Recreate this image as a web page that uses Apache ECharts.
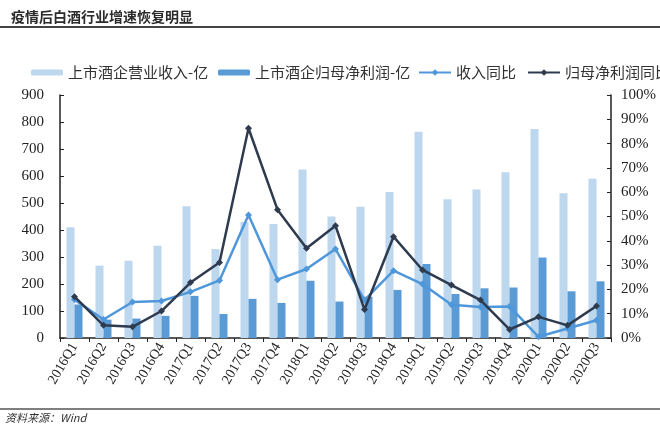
<!DOCTYPE html>
<html>
<head>
<meta charset="utf-8">
<script src="https://cdn.jsdelivr.net/npm/echarts@6/dist/echarts.min.js"></script>
<style>html,body{margin:0;padding:0;background:#fff;}#c{width:660px;height:426px;}</style>
</head>
<body>
<div id="c"></div>
<script>
var categories = ['2016Q1','2016Q2','2016Q3','2016Q4','2017Q1','2017Q2','2017Q3','2017Q4','2018Q1','2018Q2','2018Q3','2018Q4','2019Q1','2019Q2','2019Q3','2019Q4','2020Q1','2020Q2','2020Q3'];
var revenue = [410, 268, 286, 342, 488, 330, 430, 422, 624, 450, 486, 541, 764, 514, 550, 614, 774, 536, 590];
var profit = [124, 68, 72, 82, 156, 89, 145, 130, 212, 135, 153, 178, 274, 163, 184, 187, 298, 173, 210];
var revenueYoY = [15.8, 7.6, 14.8, 15.2, 19.0, 23.7, 50.6, 24.0, 28.4, 36.6, 15.6, 27.7, 22.2, 13.7, 12.8, 13.0, 0.5, 3.9, 7.3];
var profitYoY = [17.0, 5.2, 4.6, 11.1, 22.8, 31.1, 86.3, 52.8, 36.9, 46.2, 11.7, 41.7, 28.0, 21.8, 15.6, 3.5, 8.7, 5.2, 13.2];
var leftTicks = [0, 900, 100];
var rightTicks = [0, 100, 10];

var serif = 'Liberation Serif';
var cjk = 'Noto Sans CJK SC';
var chart = echarts.init(document.getElementById('c'));
var legendText = {fontFamily: cjk, fontSize: 15, color: '#333'};
chart.setOption({
  animation: false,
  title: {text: '疫情后白酒行业增速恢复明显', left: 6, top: 5,
    textStyle: {fontFamily: cjk, fontSize: 14, fontWeight: 'bold', color: '#2b2b2b'}},
  graphic: [
    {type: 'line', shape: {x1: 0, y1: 27, x2: 660, y2: 27}, style: {stroke: '#444', lineWidth: 2}},
    {type: 'line', shape: {x1: 0, y1: 409, x2: 660, y2: 409}, style: {stroke: '#555', lineWidth: 1.5}},
    {type: 'text', left: 5, top: 412, style: {text: '资料来源：Wind', fontFamily: cjk, fontSize: 11, fontStyle: 'italic', fill: '#333'}}
  ],
  legend: [
    {data: ['上市酒企营业收入-亿'], left: 26, top: 60, itemWidth: 32, itemHeight: 6, textStyle: legendText},
    {data: ['上市酒企归母净利润-亿'], left: 213, top: 60, itemWidth: 32, itemHeight: 6, textStyle: legendText},
    {data: ['收入同比'], left: 413, top: 60, itemWidth: 32, itemHeight: 8, textStyle: legendText},
    {data: ['归母净利润同比'], left: 522, top: 60, itemWidth: 32, itemHeight: 8, textStyle: legendText}
  ],
  grid: {left: 60, right: 49, top: 95, bottom: 88},
  xAxis: {
    type: 'category', data: categories, boundaryGap: true,
    axisLine: {lineStyle: {color: '#222', width: 1.5}},
    axisTick: {show: true, inside: false, length: 4, lineStyle: {color: '#222'}},
    axisLabel: {rotate: 60, fontFamily: serif, fontSize: 14, color: '#222', margin: 6, interval: 0}
  },
  yAxis: [
    {type: 'value', min: leftTicks[0], max: leftTicks[1], interval: leftTicks[2],
      splitLine: {show: false},
      axisLine: {show: true, lineStyle: {color: '#222', width: 1.5}},
      axisTick: {show: true, inside: true, length: 4, lineStyle: {color: '#222'}},
      axisLabel: {fontFamily: serif, fontSize: 15, color: '#222', margin: 16}},
    {type: 'value', min: rightTicks[0], max: rightTicks[1], interval: rightTicks[2], position: 'right',
      splitLine: {show: false},
      axisLine: {show: true, lineStyle: {color: '#222', width: 1.5}},
      axisTick: {show: true, inside: true, length: 4, lineStyle: {color: '#222'}},
      axisLabel: {fontFamily: serif, fontSize: 15, color: '#222', margin: 10, formatter: '{value}%'}}
  ],
  series: [
    {name: '上市酒企营业收入-亿', type: 'bar', data: revenue, barWidth: 8, barGap: '0%',
      itemStyle: {color: '#BDD7EE'}},
    {name: '上市酒企归母净利润-亿', type: 'bar', data: profit, barWidth: 8, barGap: '0%',
      itemStyle: {color: '#5B9BD5'}},
    {name: '收入同比', type: 'line', yAxisIndex: 1, data: revenueYoY, symbol: 'diamond', symbolSize: 7,
      lineStyle: {color: '#4E97DA', width: 2.5}, itemStyle: {color: '#4E97DA'}, z: 3},
    {name: '归母净利润同比', type: 'line', yAxisIndex: 1, data: profitYoY, symbol: 'diamond', symbolSize: 7,
      lineStyle: {color: '#2E3A4D', width: 2.5}, itemStyle: {color: '#2E3A4D'}, z: 4}
  ]
});
</script>
</body>
</html>
